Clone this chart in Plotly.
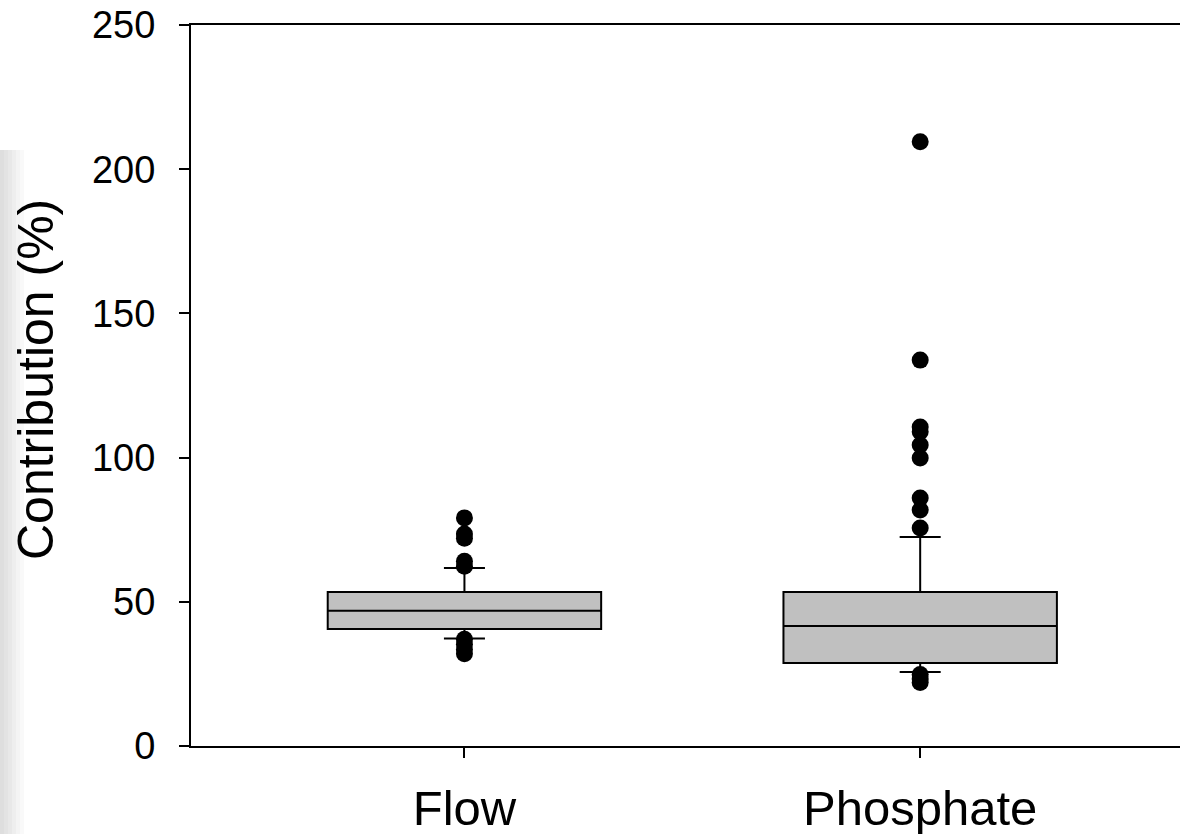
import plotly.graph_objects as go

# ---- data ----
categories = ["Flow", "Phosphate"]
q1 = [40.6, 28.8]
median = [46.9, 41.6]
q3 = [53.4, 53.4]
lower_fence = [37.3, 25.7]
upper_fence = [61.7, 72.5]

flow_outliers = [79.1, 73.5, 72.0, 64.1, 62.3, 37.0, 35.3, 33.5, 32.0]
phosphate_outliers = [209.5, 133.8, 110.6, 109.0, 104.4, 99.9, 86.0, 81.8, 75.6, 24.8, 23.2, 22.0]

y_ticks = [0, 50, 100, 150, 200, 250]
y_title = "Contribution (%)"

# figure a little wider than the window so the plot frame runs off the right edge
W, H = 1200, 834
L, R, T = 191, 0, 25
B = H - 746
pw = W - L - R
ph = H - T - B

fig = go.Figure()

for i, cat in enumerate(categories):
    fig.add_trace(go.Box(
        x=[cat], q1=[q1[i]], median=[median[i]], q3=[q3[i]],
        lowerfence=[lower_fence[i]], upperfence=[upper_fence[i]],
        boxpoints=False, width=0.6, whiskerwidth=0.15,
        fillcolor="#c0c0c0", line=dict(color="black", width=2),
        showlegend=False, hoverinfo="skip",
    ))

for cat, vals in zip(categories, [flow_outliers, phosphate_outliers]):
    fig.add_trace(go.Scatter(
        x=[cat] * len(vals), y=vals, mode="markers",
        marker=dict(color="black", size=17, line=dict(width=0)),
        showlegend=False, cliponaxis=False,
    ))

# faint gray strip at the left edge (x 0..24, y 150..834)
grays = ["#dedede", "#e3e3e3", "#e8e8e8", "#eeeeee", "#f4f4f4", "#f9f9f9"]
for k, g in enumerate(grays):
    fig.add_shape(type="rect", xref="paper", yref="paper",
                  x0=(k * 4 - L) / pw, x1=((k + 1) * 4 - L) / pw,
                  y0=(T + ph - H) / ph, y1=(T + ph - 150) / ph,
                  fillcolor=g, line=dict(width=0), layer="below")

fig.add_annotation(
    text=y_title, textangle=-90, showarrow=False,
    xref="paper", yref="paper",
    x=(36 - L) / pw, y=(T + ph - 380) / ph,
    xanchor="center", yanchor="middle",
    font=dict(size=50, color="black"),
)

fig.update_layout(
    width=W, height=H,
    margin=dict(l=L, r=R, t=T, b=B, autoexpand=False),
    paper_bgcolor="white", plot_bgcolor="white",
    font=dict(family="Liberation Sans, Arial, sans-serif", color="black"),
    xaxis=dict(
        type="category", categoryorder="array", categoryarray=categories,
        range=[-0.6, 1.614], showline=True, linecolor="black", linewidth=2,
        mirror=True, ticks="outside", ticklen=10, tickwidth=1.5, tickcolor="black",
        showgrid=False, zeroline=False, tickfont=dict(size=49),
        ticklabelstandoff=8, automargin=False, ticklabeloverflow="allow",
    ),
    yaxis=dict(
        range=[0, 250], tickmode="array", tickvals=y_ticks,
        ticktext=[str(v) for v in y_ticks],
        showline=True, linecolor="black", linewidth=2, mirror=False,
        ticks="outside", ticklen=10, tickwidth=1.5, tickcolor="black",
        showgrid=False, zeroline=False, tickfont=dict(size=38),
        ticklabelstandoff=16, automargin=False, ticklabeloverflow="allow",
    ),
)

fig.write_html(
    "out.html",
    config={"displayModeBar": False},
    post_script="document.body.style.margin='0';document.body.style.overflow='hidden';",
)
